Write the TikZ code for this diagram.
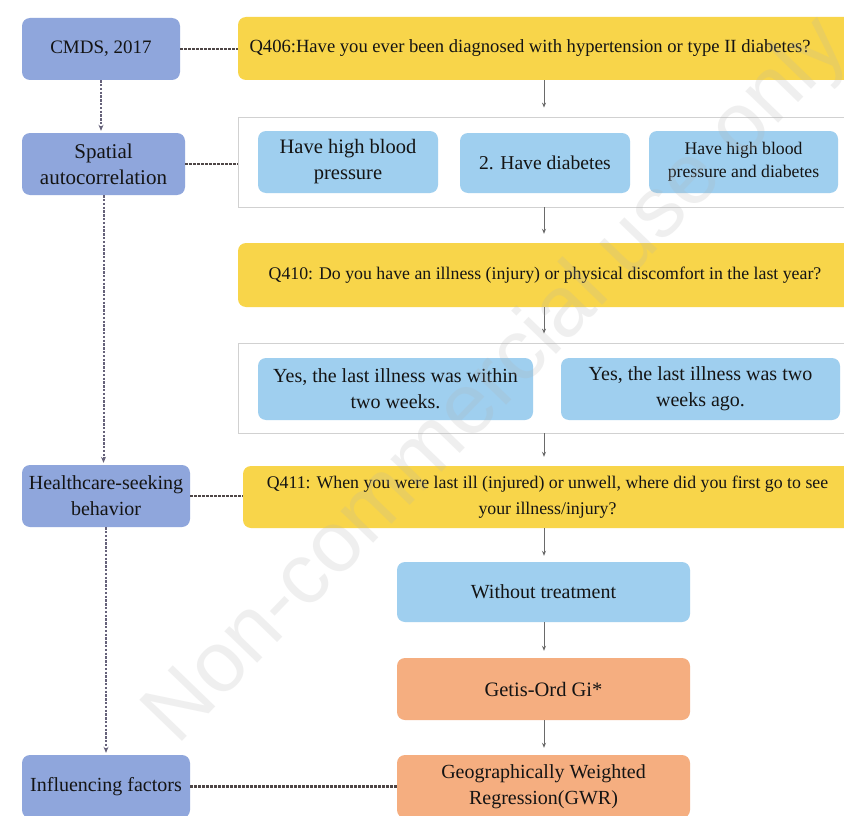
\documentclass[tikz,border=0pt]{standalone}
\usepackage{fontspec}
\setmainfont{Liberation Serif}
\newfontfamily\wmfont{Liberation Sans}
\usetikzlibrary{arrows.meta,calc}
\definecolor{lblue}{HTML}{8FA6DC}
\definecolor{qyellow}{HTML}{F8D54A}
\definecolor{sky}{HTML}{9FCFEF}
\definecolor{peach}{HTML}{F5AE80}
\definecolor{dashc}{HTML}{4E4646}
\definecolor{vdashc}{HTML}{66627A}
\definecolor{arrc}{HTML}{6A6A6A}
\tikzset{
  basebox/.style={rounded corners=8pt, inner sep=2pt, align=center, text=black!92,
    font=\fontsize{20}{26}\selectfont},
  leftbox/.style={basebox, fill=lblue},
  qbox/.style={basebox, fill=qyellow, font=\fontsize{17.8}{26}\selectfont},
  ansbox/.style={basebox, fill=sky},
  methbox/.style={basebox, fill=peach},
  container/.style={draw=black!18, line width=0.8pt, fill=white},
  flowarrow/.style={draw=arrc, line width=1pt, -{Stealth[length=5pt,width=4pt]}, shorten >=9pt},
  vdash/.style={draw=vdashc, line width=2pt, dash pattern=on 2.4pt off 1.4pt, -{Stealth[length=6pt,width=5pt]}, shorten >=2pt},
  hdash/.style={draw=dashc, line width=2.1pt, dash pattern=on 2.6pt off 1.4pt},
}
\begin{document}
\begin{tikzpicture}[x=1pt,y=-1pt]
\clip (0,0) rectangle (844,816);
\useasboundingbox (0,0) rectangle (844,816);
\fill[white] (0,0) rectangle (844,816);
\coordinate (ax) at (544,0);

% left column
\node[leftbox, minimum width=158pt, minimum height=62pt, font=\fontsize{19}{26}\selectfont] (cmds) at (101,49) {CMDS, 2017};
\node[leftbox, minimum width=163pt, minimum height=62pt, font=\fontsize{21}{26}\selectfont] (spat) at (103.5,164) {Spatial\\autocorrelation};
\node[leftbox, minimum width=168pt, minimum height=62pt] (hcs) at (106,496) {Healthcare-seeking\\behavior};
\node[leftbox, minimum width=168pt, minimum height=63pt] (infl) at (106,786.5) {Influencing factors};

% right column
\node[qbox, minimum width=614pt, minimum height=63pt, font=\fontsize{18.6}{26}\selectfont] (q406) at (545,48.5) {Q406:Have you ever been diagnosed with hypertension or type II diabetes?\hspace{30pt}};

\node[container, minimum width=614pt, minimum height=90pt] (c1) at (545,162) {};
\node[ansbox, minimum width=180pt, minimum height=62pt, font=\fontsize{20.5}{26}\selectfont] (b1) at (348,162) {Have high blood\\pressure};
\node[ansbox, minimum width=170pt, minimum height=60pt, font=\fontsize{19.6}{26}\selectfont] (b2) at (545,163) {2. Have diabetes};
\node[ansbox, minimum width=189pt, minimum height=62pt, font=\fontsize{17.7}{23}\selectfont] (b3) at (743.5,162) {Have high blood\\pressure and diabetes};

\node[qbox, minimum width=614pt, minimum height=64pt] (q410) at (545,275) {Q410: Do you have an illness (injury) or physical discomfort in the last year?};

\node[container, minimum width=614pt, minimum height=90pt] (c2) at (545,388) {};
\node[ansbox, minimum width=275pt, minimum height=62pt] (y1) at (395.5,389) {Yes, the last illness was within\\two weeks.};
\node[ansbox, minimum width=279pt, minimum height=62pt] (y2) at (700.5,389) {Yes, the last illness was two\\weeks ago.};

\node[qbox, minimum width=609pt, minimum height=62pt] (q411) at (547.5,497) {Q411: When you were last ill (injured) or unwell, where did you first go to see\\your illness/injury?};

\node[ansbox, minimum width=293pt, minimum height=60pt] (wt) at (543.5,592) {Without treatment};
\node[methbox, minimum width=293pt, minimum height=62pt, font=\fontsize{20.5}{26}\selectfont] (gi) at (543.5,689) {Getis-Ord Gi*};
\node[methbox, minimum width=293pt, minimum height=63pt] (gwr) at (543.5,786.5) {Geographically Weighted\\Regression(GWR)};

% flow arrows
\draw[flowarrow] (q406.south -| ax) -- (c1.north -| ax);
\draw[flowarrow] (c1.south -| ax) -- (q410.north -| ax);
\draw[flowarrow] (q410.south -| ax) -- (c2.north -| ax);
\draw[flowarrow] (c2.south -| ax) -- (q411.north -| ax);
\draw[flowarrow, shorten >=6pt] (q411.south -| ax) -- (wt.north -| ax);
\draw[flowarrow, shorten >=7pt] (wt.south -| ax) -- (gi.north -| ax);
\draw[flowarrow, shorten >=7pt] (gi.south -| ax) -- (gwr.north -| ax);

% left dashed arrows
\draw[vdash] (cmds.south) -- (cmds.south |- spat.north);
\draw[vdash] (spat.south) -- (spat.south |- hcs.north);
\draw[vdash] (hcs.south) -- (hcs.south |- infl.north);

% horizontal dashed links
\draw[hdash] (cmds.east) -- (cmds.east -| q406.west);
\draw[hdash] (spat.east) -- (spat.east -| c1.west);
\draw[hdash] (hcs.east) -- (hcs.east -| q411.west);
\draw[hdash] (infl.east) -- (infl.east -| gwr.west);

% watermark
\node[rotate=46, font=\wmfont\fontsize{86}{86}\selectfont, text=black!30, opacity=0.2] (wm) at (498,382) {Non-commercial use only};
\end{tikzpicture}
\end{document}
